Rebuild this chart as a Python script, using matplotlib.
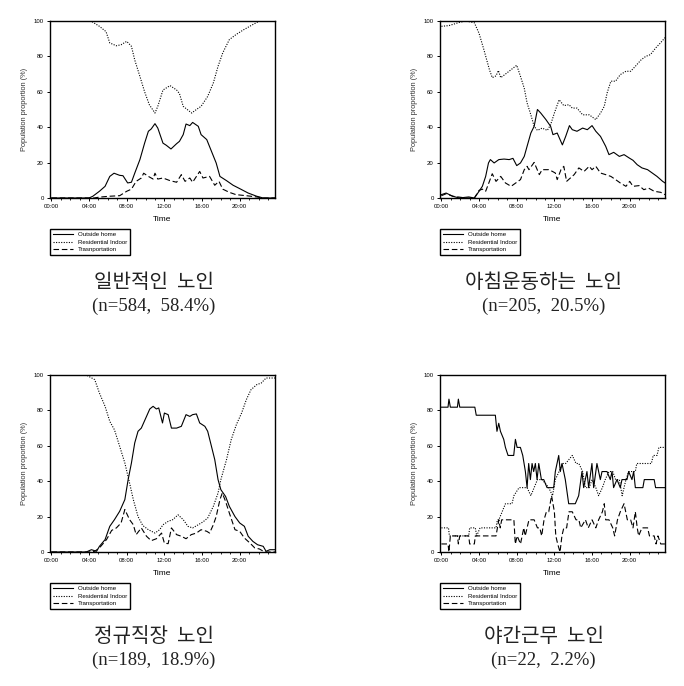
import numpy as np
import matplotlib
matplotlib.use("Agg")
import matplotlib.pyplot as plt
from matplotlib.ticker import MultipleLocator

plt.rcParams['font.family'] = ['Liberation Sans', 'Noto Sans CJK KR']

# ---- panel 1: 일반적인 노인 (hours, percent) ----
p1_out_t = [0, 4.0, 4.4, 5.1, 5.7, 6.2, 6.65, 7.25, 7.6, 8.1, 8.5, 8.85, 9.4, 9.9, 10.3, 10.6, 11.0, 11.3, 11.85, 12.2,
            12.7, 13.3, 13.6, 14.0, 14.3, 14.7, 15.0, 15.6, 15.9, 16.5, 17.0, 17.5, 17.9, 18.6, 19.3, 20.0, 20.9, 21.8, 22.5, 23.8]
p1_out = [0, 0, 1, 3.8, 6.6, 12.2, 14, 12.8, 12.6, 8.5, 8.9, 14, 21.7, 31, 37.7, 39, 42, 39.5, 31, 29.8,
          27.7, 30.7, 32, 35.8, 41.8, 40.9, 42.7, 40.5, 35.8, 33, 26.4, 19.8, 12.2, 9.8, 7.2, 5.3, 2.8, 1, 0, 0]
p1_res_t = [0, 4.2, 5.1, 5.8, 6.2, 6.9, 7.4, 8.0, 8.5, 8.85, 9.4, 9.9, 10.4, 11.0, 11.3, 11.85, 12.6, 13.3, 13.6, 14.0,
            14.9, 15.4, 15.9, 16.6, 17.2, 17.7, 18.2, 18.9, 19.6, 20.4, 21.4, 22.1, 23.8]
p1_res = [100, 100, 97, 94, 87.6, 86, 86.6, 88.5, 85.7, 78, 68.7, 60, 52.7, 48, 51.8, 61, 63.5, 61, 59, 51.8,
          48, 50, 51.8, 57.4, 65, 74.4, 82, 89.5, 92.3, 95, 98, 100, 100]
p1_tr_t = [0, 4.5, 5.1, 6.2, 7.25, 8.0, 8.5, 9.0, 9.55, 9.8, 10.3, 10.8, 11.0, 11.3, 11.85, 12.6, 13.3, 13.8, 14.2, 14.7,
           15.0, 15.75, 16.1, 16.8, 17.35, 17.8, 18.2, 18.9, 19.6, 20.7, 21.8, 22.5, 23.8]
p1_tr = [0, 0, 0.5, 1, 1.3, 3.8, 5, 9.4, 11.3, 14, 12.2, 10.7, 14, 10.7, 11.3, 9.8, 8.9, 13.2, 9.4, 11.3,
         8.9, 15, 11.3, 12.2, 7.2, 9.4, 5, 3.2, 1.9, 1.3, 0.6, 0, 0]

# ---- panel 2: 아침운동하는 노인 ----
p2_out_t = [0, 0.5, 1.2, 1.9, 2.9, 3.5, 4.0, 4.35, 4.7, 5.0, 5.2, 5.6, 6.1, 6.65, 7.2, 7.6, 8.0, 8.4, 8.8, 9.1,
            9.5, 9.85, 10.2, 10.55, 11.1, 11.6, 11.85, 12.3, 12.85, 13.2, 13.6, 13.9, 14.4, 15.0, 15.5, 16.0, 16.4, 16.9, 17.45, 17.8,
            18.3, 18.9, 19.4, 19.95, 20.35, 20.8, 21.3, 21.9, 22.4, 22.9, 23.5, 23.75]
p2_out = [1.9, 2.8, 1, 0, 0.6, 0, 3.8, 6.6, 12.2, 19.8, 21.7, 19.8, 21.7, 22, 21.7, 22.4, 18.3, 19.8, 23.5, 29.2,
          36.7, 40.5, 50, 48, 44.3, 40.5, 35.8, 36.7, 30, 34.8, 40.9, 38.6, 37.7, 39.5, 38.6, 40.9, 37.7, 34.8, 29.2, 24.5,
          25.8, 23.5, 24.5, 22.6, 21.3, 18.8, 17, 16, 14.1, 12.2, 9.4, 8.5]
p2_res_t = [0, 0.8, 1.9, 2.6, 3.5, 4.0, 4.5, 5.1, 5.4, 5.8, 6.05, 6.3, 6.8, 7.4, 8.0, 8.4, 8.8, 9.1, 9.5, 9.85,
            10.2, 10.7, 11.25, 11.6, 12.0, 12.5, 13.0, 13.55, 13.9, 14.4, 15.0, 15.7, 16.4, 16.9, 17.3, 17.6, 18.0, 18.5, 19.0, 19.6,
            20.1, 20.6, 21.2, 21.7, 22.2, 22.8, 23.3, 23.75]
p2_res = [97, 97.4, 99.2, 100, 99, 93, 84, 72.5, 68, 69, 72, 68, 70, 72.5, 75, 68.7, 62, 53.7, 47, 40.5,
          38.2, 39.5, 38.2, 41.4, 48, 55.5, 52.2, 52.7, 50.8, 50.8, 47, 47, 44.3, 48, 51.8, 59.3, 66, 66, 69.7, 71.6,
          71.6, 74.4, 78, 80, 81, 85, 87.8, 90.6]
p2_tr_t = [0, 0.5, 1.2, 1.9, 2.6, 3.5, 4.0, 4.35, 4.7, 5.1, 5.4, 5.8, 6.3, 6.8, 7.4, 7.9, 8.4, 8.8, 9.1, 9.3,
           9.85, 10.4, 10.7, 11.4, 11.8, 12.1, 12.3, 12.7, 13.0, 13.3, 13.7, 14.1, 14.6, 15.15, 15.7, 16.0, 16.4, 16.9, 17.45, 18.0,
           18.5, 19.0, 19.6, 20.0, 20.35, 21.0, 21.5, 22.0, 22.6, 23.3, 23.75]
p2_tr = [1.3, 2.4, 1, 0.5, 0, 0, 4.3, 5, 3.8, 9.4, 13.7, 9.4, 12.2, 8.5, 6.6, 8.5, 10.4, 16, 17.9, 16,
         20.1, 13.2, 16, 16, 15, 14.1, 10.4, 16, 17.9, 9.4, 11.3, 13.2, 17, 15, 17.9, 16, 17.9, 14.1, 13.2, 12.2,
         10.4, 8.5, 6.6, 9.4, 6.6, 7, 4.7, 5.6, 3.8, 3.2, 1.9]

# ---- panel 3: 정규직장 노인 ----
p3_out_t = [0, 3.7, 4.25, 4.8, 5.1, 5.7, 6.2, 6.7, 7.25, 7.8, 8.15, 8.5, 8.85, 9.2, 9.55, 10.1, 10.45, 10.8, 11.15, 11.4,
            11.8, 12.0, 12.4, 12.75, 13.3, 13.8, 14.3, 14.7, 15.0, 15.4, 15.75, 16.3, 16.6, 17.0, 17.35, 17.7, 18.0, 18.5, 18.9, 19.5,
            20.0, 20.5, 20.9, 21.4, 21.9, 22.5, 22.8, 23.2, 23.8]
p3_out = [0, 0, 1.3, 0.4, 3.2, 7, 14.5, 18.3, 23, 29.6, 40.9, 50.3, 61.6, 68.2, 70, 76.6, 80.8, 82.3, 80.8, 81.4,
          72.9, 78.5, 77.6, 70, 70, 71, 77.6, 76.6, 77.6, 78, 72.9, 71, 68.2, 59.7, 52.2, 40.9, 35.2, 31.4, 25.8, 20,
          16.4, 14.5, 8.9, 6, 4.1, 3.2, 0.4, 1.3, 1.3]
p3_res_t = [0, 3.7, 4.6, 5.1, 5.7, 6.2, 6.7, 7.25, 7.8, 8.3, 8.7, 9.2, 9.7, 10.3, 11.0, 11.5, 11.85, 12.4, 12.9, 13.45,
            14.0, 14.5, 15.0, 15.6, 16.1, 16.6, 17.2, 17.7, 18.0, 18.6, 19.1, 19.65, 20.2, 20.7, 21.2, 21.8, 22.3, 22.8, 23.8]
p3_res = [100, 100, 97.4, 89.8, 82.3, 73.8, 69, 59.7, 50.3, 39, 29.6, 20, 15, 12.6, 10.7, 12.6, 15.4, 17.3, 18.3, 21,
          18.3, 14.5, 13.6, 15.4, 17, 19.2, 25.8, 33.3, 40.9, 52.2, 63.5, 72, 78.5, 86, 91.7, 94.5, 95.5, 98.3, 98.3]
p3_tr_t = [0, 4.0, 4.6, 5.1, 5.85, 6.4, 6.9, 7.4, 7.8, 8.3, 8.7, 9.0, 9.55, 10.1, 10.6, 11.15, 11.7, 12.0, 12.4, 12.75,
           13.3, 13.8, 14.3, 14.85, 15.4, 15.9, 16.5, 16.8, 17.2, 17.5, 17.9, 18.15, 18.5, 18.9, 19.5, 20.0, 20.5, 21.1, 21.6, 22.1,
           22.65, 23.8]
p3_tr = [0, 0, 0.4, 2.3, 7, 12.2, 13.6, 16.4, 24, 18.3, 15.4, 9.8, 13.6, 8.9, 6.4, 7.5, 10.7, 5, 4.7, 13.6,
         9.8, 8.9, 7.5, 9.8, 10.7, 12.6, 11.7, 10.7, 15.4, 20, 29.6, 33.3, 28.6, 22, 12.6, 11.7, 7.9, 5, 2.3, 1.7,
         0, 0]

# ---- panel 4: 야간근무 노인 (counts out of n=22) ----
p4_n = 22
p4_out_t = [0, 0.7, 0.8, 0.95, 1.7, 1.8, 1.95, 3.55, 3.7, 5.73, 5.9, 6.09, 6.27, 6.62, 6.8, 7.08, 7.68, 7.86, 8.04, 8.39,
            8.64, 8.92, 9.1, 9.27, 9.45, 9.63, 9.8, 9.98, 10.16, 10.34, 10.62, 10.87, 11.22, 11.57, 11.93, 12.1, 12.46, 12.63, 12.81, 13.16,
            13.52, 14.22, 14.58, 14.93, 15.11, 15.46, 15.64, 15.99, 16.17, 16.52, 16.88, 17.06, 17.59, 17.94, 18.12, 18.29, 18.65, 19.0, 19.18, 19.71,
            19.89, 20.24, 20.42, 20.6, 21.4, 21.55, 22.6, 22.75, 23.8]
p4_out = [18, 18, 19, 18, 18, 19, 18, 18, 17, 17, 15, 16, 15, 14, 13, 12, 12, 14, 13, 13,
          12, 10, 8, 11, 9, 11, 10, 11, 9, 11, 9, 9, 8, 8, 8, 10, 12, 10, 11, 9,
          6, 6, 7, 10, 8, 10, 8, 11, 8, 11, 9, 10, 10, 9, 10, 8, 9, 8, 9, 9,
          10, 9, 10, 8, 8, 9, 9, 8, 8]
p4_res_t = [0, 0.75, 0.85, 2.9, 3.0, 3.6, 3.75, 4.1, 4.3, 5.8, 5.95, 6.1, 6.8, 7.5, 7.7, 8.25, 8.8, 9.1, 9.5, 9.85,
            10.2, 10.7, 11.4, 11.8, 12.1, 12.5, 12.85, 13.2, 13.9, 14.3, 14.6, 15.0, 15.3, 15.7, 16.0, 16.4, 16.7, 17.1, 17.4, 17.8,
            18.2, 18.5, 18.9, 19.2, 19.6, 19.9, 20.6, 20.75, 22.3, 22.5, 22.9, 23.1, 23.8]
p4_res = [3, 3, 2, 2, 3, 3, 2, 3, 3, 3, 4, 4, 6, 6, 7, 8, 8, 8, 7, 8,
          9, 9, 8, 7, 9, 10, 11, 11, 12, 11, 11, 10, 8, 8, 9, 8, 7, 8, 9, 10,
          10, 9, 9, 7, 9, 10, 10, 11, 11, 12, 12, 13, 13]
p4_tr_t = [0, 0.7, 0.8, 0.95, 1.7, 1.8, 1.95, 2.9, 3.0, 3.5, 3.6, 5.8, 5.95, 6.1, 6.25, 6.4, 7.7, 7.85, 8.05, 8.4,
           8.75, 8.9, 9.3, 9.85, 10.2, 10.45, 10.65, 10.9, 11.15, 11.4, 11.7, 12.0, 12.15, 12.35, 12.6, 12.8, 13.0, 13.3, 13.55, 13.9,
           14.3, 14.6, 14.8, 15.3, 15.6, 16.0, 16.4, 16.7, 17.1, 17.3, 17.45, 17.8, 18.2, 18.4, 18.7, 19.0, 19.4, 19.75, 20.1, 20.35,
           20.6, 20.8, 20.95, 21.3, 21.9, 22.1, 22.6, 22.8, 23.0, 23.3, 23.8]
p4_tr = [1, 1, 0, 2, 2, 1, 2, 2, 1, 1, 2, 2, 3, 4, 3, 4, 4, 1, 2, 1,
         3, 2, 4, 4, 3, 3, 2, 4, 5, 5, 7, 5, 2, 1, 0, 2, 3, 3, 5, 5,
         4, 4, 3, 4, 3, 4, 3, 4, 5, 6, 4, 4, 3, 2, 4, 5, 6, 4, 4, 3,
         5, 3, 2, 3, 3, 2, 2, 1, 2, 1, 1]

titles = ["일반적인  노인", "아침운동하는  노인", "정규직장  노인", "야간근무  노인"]
subtitles = ["(n=584,  58.4%)", "(n=205,  20.5%)", "(n=189,  18.9%)", "(n=22,  2.2%)"]
# the first panel's legend has the typo as in the original figure
legend_labels = [
    ["Outside home", "Residential Indoor", "Trasnportation"],
    ["Outside home", "Residential Indoor", "Transportation"],
    ["Outside home", "Residential Indoor", "Transportation"],
    ["Outside home", "Residential Indoor", "Transportation"],
]
hour_ticks = [0, 4, 8, 12, 16, 20]
hour_labels = ["00:00", "04:00", "08:00", "12:00", "16:00", "20:00"]

pct4 = lambda v: np.array(v) / p4_n * 100
panels = [
    [(p1_out_t, p1_out), (p1_res_t, p1_res), (p1_tr_t, p1_tr)],
    [(p2_out_t, p2_out), (p2_res_t, p2_res), (p2_tr_t, p2_tr)],
    [(p3_out_t, p3_out), (p3_res_t, p3_res), (p3_tr_t, p3_tr)],
    [(p4_out_t, pct4(p4_out)), (p4_res_t, pct4(p4_res)), (p4_tr_t, pct4(p4_tr))],
]
styles = ['-', (0, (1, 1.3)), (0, (5, 2.5))]

W, H = 684, 686
fig = plt.figure(figsize=(W / 100, H / 100), dpi=100)
# axes boxes in pixels: left, top, right, bottom
boxes = [(50, 21, 275, 198), (440, 21, 665, 198), (50, 375, 275, 552), (440, 375, 665, 552)]

for i, (l, t, r, b) in enumerate(boxes):
    ax = fig.add_axes([l / W, 1 - b / H, (r - l) / W, (b - t) / H])
    h = b - t
    for (xs, ys), ls, lab in zip(panels[i], styles, legend_labels[i]):
        ax.plot(xs, ys, color='black', linestyle=ls, lw=0.8, label=lab)
    ax.set_xlim(-0.15, 23.75)
    ax.set_ylim(0, 100)
    ax.set_xticks(hour_ticks)
    ax.set_xticklabels(hour_labels)
    ax.xaxis.set_minor_locator(MultipleLocator(1))
    ax.set_yticks([0, 20, 40, 60, 80, 100])
    ax.tick_params(axis='both', which='major', direction='out', length=2.5, width=0.7, labelsize=4.3, pad=2)
    ax.tick_params(axis='x', which='minor', direction='out', length=1.3, width=0.6)
    for s in ax.spines.values():
        s.set_linewidth(1.0)
    ax.set_xlabel("Time", fontsize=6, labelpad=5)
    ax.set_ylabel("Population proportion (%)", fontsize=5.3, labelpad=4, color='#333333')
    leg = ax.legend(loc='upper left', bbox_to_anchor=(0, -31 / h), borderaxespad=0,
                    fontsize=4.4, frameon=True, fancybox=False, edgecolor='black', framealpha=1,
                    handlelength=3.3, handletextpad=0.7, labelspacing=0.35, borderpad=0.5)
    leg.get_frame().set_linewidth(1.0)
    ax.text(0.46, -84 / h, titles[i], transform=ax.transAxes, ha='center', va='center',
            fontsize=14.5, family=['Noto Sans CJK KR'], fontweight='light', color='#222222')
    ax.text(0.46, -108 / h, subtitles[i], transform=ax.transAxes, ha='center', va='center',
            fontsize=13.5, family=['Liberation Serif'], color='#222222')

fig.savefig("out.png", dpi=100)
